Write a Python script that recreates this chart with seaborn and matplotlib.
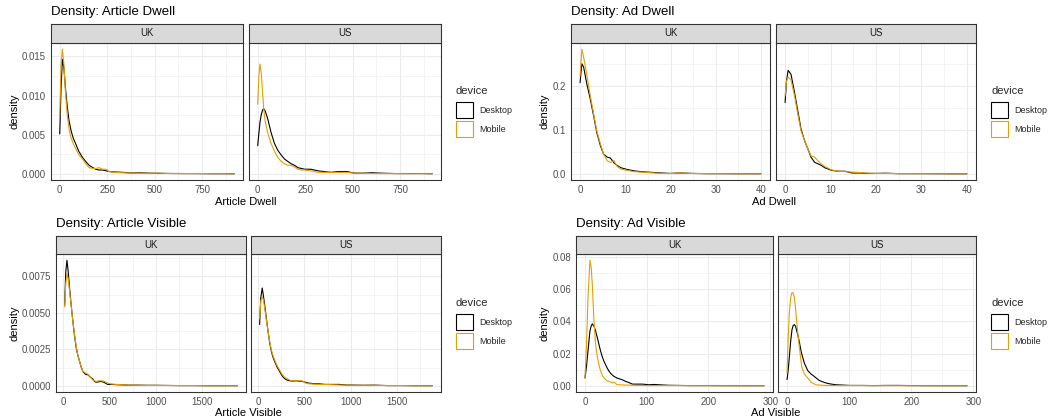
import numpy as np
import pandas as pd
import matplotlib
matplotlib.use("Agg")
import matplotlib.pyplot as plt
import seaborn as sns
from matplotlib.patches import Patch

# ---------------- data ----------------
countries = ["UK", "US"]
devices = ["Desktop", "Mobile"]
device_colors = ["#000000", "#E69F00"]

# Article Dwell
art_dwell_x_uk = [0, 7, 14, 22, 30, 40, 49, 60, 72, 85, 100, 120, 140, 155, 175, 190, 208, 225, 245, 260,
                  290, 331, 380, 420, 470, 520, 580, 650, 720, 800, 860, 920]
art_dwell_desk_uk = [0.0051, 0.0110, 0.0146, 0.0135, 0.0110, 0.0085, 0.0068, 0.0055, 0.0045, 0.0038, 0.0029,
                     0.0021, 0.0015, 0.0011, 0.0008, 0.0006, 0.0005, 0.0005, 0.0004, 0.0003, 0.00025, 0.0002,
                     0.00012, 0.00015, 0.0001, 0.00008, 0.00006, 0.00005, 0.00004, 0.00003, 0.00003, 0.00002]
art_dwell_mob_uk = [0.0074, 0.0140, 0.0159, 0.0140, 0.0105, 0.0075, 0.0057, 0.0046, 0.0038, 0.0032, 0.0025,
                    0.0019, 0.0012, 0.0008, 0.0007, 0.0007, 0.0008, 0.0006, 0.0006, 0.0003, 0.0002, 0.00015,
                    0.0001, 0.0001, 0.00008, 0.0001, 0.00005, 0.00004, 0.00006, 0.00003, 0.00003, 0.00002]
art_dwell_x_us = [0, 6, 12, 19, 26, 32, 40, 53, 70, 88, 106, 124, 141, 158, 176, 194, 211, 230, 246, 280,
                  317, 350, 387, 420, 440, 470, 510, 560, 600, 650, 720, 800, 860, 920]
art_dwell_desk_us = [0.0036, 0.0052, 0.0066, 0.0076, 0.0082, 0.0083, 0.0080, 0.0070, 0.0053, 0.0039, 0.0030,
                     0.0024, 0.0019, 0.0016, 0.0013, 0.0011, 0.0008, 0.0007, 0.0006, 0.0006, 0.0004, 0.0003,
                     0.0002, 0.0003, 0.0003, 0.0003, 0.0001, 0.0001, 0.00015, 0.0001, 0.00005, 0.00005,
                     0.00005, 0.00003]
art_dwell_mob_us = [0.0089, 0.0125, 0.0140, 0.0128, 0.0102, 0.0082, 0.0066, 0.0052, 0.0039, 0.0029, 0.0021,
                    0.0016, 0.0013, 0.0011, 0.0011, 0.0009, 0.0006, 0.0005, 0.0005, 0.0004, 0.0002, 0.0002,
                    0.0002, 0.0002, 0.0002, 0.0002, 0.0001, 0.00008, 0.00005, 0.00004, 0.00004, 0.00003,
                    0.00003, 0.00002]

# Ad Dwell
ad_dwell_x_uk = [0, 0.4, 0.8, 1.5, 2.2, 3.0, 3.7, 4.5, 5.2, 6.0, 6.7, 7.5, 8.2, 9.0, 10.4, 11.9, 13.4, 14.9,
                 16.4, 18, 20, 22, 25, 28, 31, 34, 37, 40]
ad_dwell_desk_uk = [0.207, 0.250, 0.242, 0.204, 0.173, 0.132, 0.094, 0.064, 0.045, 0.038, 0.036, 0.025, 0.019,
                    0.014, 0.010, 0.007, 0.005, 0.004, 0.003, 0.002, 0.001, 0.002, 0.001, 0.0005, 0.0005,
                    0.0003, 0.0003, 0.0002]
ad_dwell_mob_uk = [0.222, 0.283, 0.265, 0.225, 0.181, 0.136, 0.098, 0.068, 0.045, 0.030, 0.026, 0.030, 0.017,
                   0.011, 0.008, 0.005, 0.004, 0.003, 0.002, 0.001, 0.0008, 0.002, 0.0008, 0.0005, 0.0004,
                   0.0003, 0.0002, 0.0002]
ad_dwell_x_us = [0, 0.3, 0.67, 1.3, 2.0, 2.8, 3.5, 4.3, 5.0, 5.7, 6.5, 7.2, 8.0, 8.7, 10.2, 11.7, 13.2, 14.7,
                 16.5, 18.4, 20, 22, 25, 28, 31, 34, 37, 40]
ad_dwell_desk_us = [0.162, 0.210, 0.235, 0.226, 0.189, 0.143, 0.102, 0.075, 0.057, 0.038, 0.026, 0.023, 0.019,
                    0.014, 0.008, 0.006, 0.006, 0.002, 0.002, 0.001, 0.001, 0.0015, 0.0005, 0.0005, 0.0005,
                    0.0003, 0.0002, 0.0002]
ad_dwell_mob_us = [0.177, 0.210, 0.220, 0.213, 0.181, 0.136, 0.098, 0.075, 0.057, 0.041, 0.038, 0.030, 0.022,
                   0.017, 0.009, 0.006, 0.005, 0.004, 0.003, 0.0015, 0.001, 0.001, 0.0005, 0.0005, 0.0004,
                   0.0003, 0.0002, 0.0002]

# Article Visible
art_vis_x_uk = [18, 30, 43, 57, 71, 89, 107, 125, 143, 160, 178, 196, 214, 240, 268, 295, 321, 340, 357, 385,
                410, 440, 482, 530, 580, 625, 700, 800, 900, 1000, 1100, 1250, 1400, 1550, 1700, 1880]
art_vis_desk_uk = [0.0055, 0.0078, 0.0086, 0.0078, 0.0067, 0.0055, 0.0044, 0.0034, 0.0026, 0.0021, 0.0017,
                   0.0013, 0.0010, 0.0008, 0.00076, 0.0006, 0.00048, 0.0003, 0.00025, 0.00028, 0.0003,
                   0.00025, 0.0001, 0.0001, 0.00008, 0.00007, 0.00005, 0.00005, 0.00004, 0.00004, 0.00003,
                   0.00002, 0.00002, 0.00001, 0.00001, 0.00001]
art_vis_mob_uk = [0.0054, 0.0070, 0.0077, 0.0073, 0.0065, 0.0055, 0.0044, 0.0035, 0.0027, 0.0021, 0.0017,
                  0.0013, 0.0010, 0.0009, 0.0008, 0.0006, 0.0004, 0.00035, 0.0003, 0.00035, 0.00035, 0.00033,
                  0.00018, 0.00012, 0.0001, 0.00008, 0.00005, 0.00004, 0.00003, 0.00003, 0.00003, 0.00002,
                  0.00002, 0.00001, 0.00001, 0.00001]
art_vis_x_us = [18, 30, 46, 58, 71, 89, 107, 125, 143, 160, 178, 205, 232, 259, 286, 313, 339, 375, 411, 446,
                482, 510, 536, 600, 661, 720, 800, 875, 950, 1050, 1150, 1250, 1400, 1550, 1700, 1880]
art_vis_desk_us = [0.0042, 0.0060, 0.0067, 0.0062, 0.0056, 0.0047, 0.0038, 0.0030, 0.0024, 0.0020, 0.0017,
                   0.0013, 0.0010, 0.0007, 0.0005, 0.0004, 0.00035, 0.00033, 0.00035, 0.00032, 0.0003,
                   0.00025, 0.0002, 0.00015, 0.00014, 0.0001, 0.0001, 0.0001, 0.00006, 0.00005, 0.00004,
                   0.00005, 0.00002, 0.00002, 0.00001, 0.00001]
art_vis_mob_us = [0.0046, 0.0058, 0.0061, 0.0059, 0.0054, 0.0046, 0.0038, 0.0031, 0.0025, 0.0021, 0.0018,
                  0.0014, 0.0011, 0.0008, 0.0006, 0.0005, 0.0004, 0.00035, 0.00035, 0.00035, 0.00033, 0.0002,
                  0.00015, 0.00012, 0.0001, 0.0001, 0.00008, 0.00006, 0.00005, 0.00004, 0.00004, 0.00004,
                  0.00002, 0.00002, 0.00001, 0.00001]

# Ad Visible
ad_vis_x_uk = [0, 2.5, 5, 8.1, 10, 11.9, 14.6, 17.3, 20, 22.7, 25, 28, 31, 33.5, 36, 39, 42, 44, 47, 52, 55,
               60, 66, 71, 77, 85, 93, 104, 112, 120, 135, 150, 170, 200, 230, 260, 290]
ad_vis_desk_uk = [0.0048, 0.012, 0.022, 0.034, 0.037, 0.0385, 0.037, 0.034, 0.030, 0.0256, 0.022, 0.018,
                  0.015, 0.013, 0.011, 0.009, 0.0075, 0.0068, 0.0058, 0.0048, 0.0044, 0.0038, 0.0027, 0.0020,
                  0.0010, 0.0010, 0.0010, 0.0006, 0.0008, 0.0006, 0.0003, 0.0002, 0.0001, 0.0001, 0.00005,
                  0.00003, 0.00002]
ad_vis_mob_uk = [0.0048, 0.025, 0.055, 0.078, 0.074, 0.063, 0.040, 0.0256, 0.018, 0.013, 0.0095, 0.0065,
                 0.0048, 0.0037, 0.0030, 0.0027, 0.0022, 0.0017, 0.0023, 0.0006, 0.0006, 0.0005, 0.0004,
                 0.0004, 0.0003, 0.0002, 0.0002, 0.0001, 0.0001, 0.0001, 0.0001, 0.0001, 0.00005, 0.00003,
                 0.00002, 0.00001, 0.00001]
ad_vis_x_us = [0, 2, 3.8, 6, 8.1, 10, 11.9, 13.8, 15.7, 17.3, 20, 22.7, 24.3, 28, 33.5, 39, 41.6, 47, 52, 57,
               63, 70, 79, 90, 101, 120, 140, 160, 180, 200, 230, 260, 290]
ad_vis_desk_us = [0.0038, 0.010, 0.018, 0.028, 0.035, 0.0375, 0.038, 0.037, 0.034, 0.032, 0.027, 0.0215,
                  0.019, 0.014, 0.0094, 0.0072, 0.0065, 0.0048, 0.0033, 0.0025, 0.0017, 0.0011, 0.0006,
                  0.0004, 0.0002, 0.0002, 0.0001, 0.0002, 0.0002, 0.0001, 0.00005, 0.00003, 0.00002]
ad_vis_mob_us = [0.0079, 0.030, 0.046, 0.055, 0.058, 0.0575, 0.055, 0.048, 0.040, 0.033, 0.0235, 0.015,
                 0.011, 0.0073, 0.0048, 0.0021, 0.0015, 0.0006, 0.0004, 0.0003, 0.0002, 0.0002, 0.0001,
                 0.0001, 0.0001, 0.0001, 0.00005, 0.00005, 0.00005, 0.00003, 0.00002, 0.00001, 0.00001]

# tick values / labels
art_dwell_xticks = [0, 250, 500, 750]
art_dwell_yticks = [0.0, 0.005, 0.010, 0.015]
art_dwell_ylabels = ["0.000", "0.005", "0.010", "0.015"]
ad_dwell_xticks = [0, 10, 20, 30, 40]
ad_dwell_yticks = [0.0, 0.1, 0.2]
ad_dwell_ylabels = ["0.0", "0.1", "0.2"]
art_vis_xticks = [0, 500, 1000, 1500]
art_vis_yticks = [0.0, 0.0025, 0.0050, 0.0075]
art_vis_ylabels = ["0.0000", "0.0025", "0.0050", "0.0075"]
ad_vis_xticks = [0, 100, 200, 300]
ad_vis_yticks = [0.0, 0.02, 0.04, 0.06, 0.08]
ad_vis_ylabels = ["0.00", "0.02", "0.04", "0.06", "0.08"]

# ---------------- style ----------------
sns.set_theme(style="white")
plt.rcParams["font.family"] = ["Liberation Sans", "DejaVu Sans"]

W, H = 1054, 420
fig = plt.figure(figsize=(W / 100, H / 100), dpi=100)
fig.patch.set_facecolor("white")

LW = 0.78
TICK_FS = 6.9
STRIP_FS = 6.9
LEG_FS = 6.5
AX_FS = 8.0
TITLE_FS = 9.5

metrics = [
    dict(title="Density: Article Dwell", xlabel="Article Dwell",
         xs=[art_dwell_x_uk, art_dwell_x_us], desk=[art_dwell_desk_uk, art_dwell_desk_us],
         mob=[art_dwell_mob_uk, art_dwell_mob_us], xticks=art_dwell_xticks,
         yticks=art_dwell_yticks, ylabels=art_dwell_ylabels,
         panels=[(51, 243), (249, 441)], strip_top=24, top=43, bottom=180,
         legend=(456, 86.5), ylab_x=14, title_y=15, xlab_y=205),
    dict(title="Density: Ad Dwell", xlabel="Ad Dwell",
         xs=[ad_dwell_x_uk, ad_dwell_x_us], desk=[ad_dwell_desk_uk, ad_dwell_desk_us],
         mob=[ad_dwell_mob_uk, ad_dwell_mob_us], xticks=ad_dwell_xticks,
         yticks=ad_dwell_yticks, ylabels=ad_dwell_ylabels,
         panels=[(571, 770), (776, 976)], strip_top=24, top=43, bottom=180,
         legend=(991, 86.5), ylab_x=544, title_y=15, xlab_y=205),
    dict(title="Density: Article Visible", xlabel="Article Visible",
         xs=[art_vis_x_uk, art_vis_x_us], desk=[art_vis_desk_uk, art_vis_desk_us],
         mob=[art_vis_mob_uk, art_vis_mob_us], xticks=art_vis_xticks,
         yticks=art_vis_yticks, ylabels=art_vis_ylabels,
         panels=[(56, 246), (251, 441)], strip_top=236, top=254, bottom=392,
         legend=(456, 298.5), ylab_x=14, title_y=227.5, xlab_y=416),
    dict(title="Density: Ad Visible", xlabel="Ad Visible",
         xs=[ad_vis_x_uk, ad_vis_x_us], desk=[ad_vis_desk_uk, ad_vis_desk_us],
         mob=[ad_vis_mob_uk, ad_vis_mob_us], xticks=ad_vis_xticks,
         yticks=ad_vis_yticks, ylabels=ad_vis_ylabels,
         panels=[(576, 773), (778, 976)], strip_top=236, top=254, bottom=392,
         legend=(991, 298.5), ylab_x=544, title_y=227.5, xlab_y=416),
]

palette = dict(zip(devices, device_colors))


def fx(px):
    return px / W


def fy(py):
    return 1 - py / H


for m in metrics:
    allx = np.concatenate([np.asarray(v, float) for v in m["xs"]])
    ally = np.concatenate([np.asarray(v, float) for v in m["desk"] + m["mob"]])
    xr = allx.max() - allx.min()
    yr = ally.max() - ally.min()
    xlim = (allx.min() - 0.05 * xr, allx.max() + 0.05 * xr)
    ylim = (ally.min() - 0.05 * yr, ally.max() + 0.05 * yr)
    xt = np.asarray(m["xticks"], float)
    yt = np.asarray(m["yticks"], float)
    xstep = xt[1] - xt[0]
    ystep = yt[1] - yt[0]
    xminor = np.arange(xt[0] - xstep / 2, xt[-1] + xstep, xstep)
    yminor = np.arange(yt[0] - ystep / 2, yt[-1] + ystep, ystep)

    for i, country in enumerate(countries):
        l, r = m["panels"][i]
        ax = fig.add_axes([fx(l), fy(m["bottom"]), fx(r - l), (m["bottom"] - m["top"]) / H])
        x = list(m["xs"][i])
        n = len(x)
        df = pd.DataFrame({
            "x": x + x,
            "density": list(m["desk"][i]) + list(m["mob"][i]),
            "device": [devices[0]] * n + [devices[1]] * n,
        })
        sns.lineplot(data=df, x="x", y="density", hue="device", hue_order=devices,
                     palette=palette, estimator=None, sort=False, lw=0.8, ax=ax, legend=False)
        ax.set_facecolor("white")
        ax.set_xticks(xt)
        ax.set_xticklabels([f"{int(v)}" for v in xt])
        ax.set_xticks(xminor, minor=True)
        ax.set_yticks(yt)
        ax.set_yticks(yminor, minor=True)
        ax.set_xlim(xlim)
        ax.set_ylim(ylim)
        ax.grid(which="major", color="#EBEBEB", lw=LW)
        ax.grid(which="minor", color="#EBEBEB", lw=LW / 2)
        ax.set_axisbelow(True)
        for s in ax.spines.values():
            s.set_color("#333333")
            s.set_linewidth(LW)
        ax.tick_params(axis="both", which="major", length=2.0, width=LW, color="#333333",
                       labelsize=TICK_FS, labelcolor="#4D4D4D", pad=1.6)
        ax.tick_params(axis="both", which="minor", length=0)
        ax.set_xlabel("")
        ax.set_ylabel("")
        if i == 0:
            ax.set_yticklabels(m["ylabels"])
        else:
            ax.tick_params(axis="y", which="major", length=0, labelleft=False)

        # facet strip
        sax = fig.add_axes([fx(l), fy(m["top"]), fx(r - l), (m["top"] - m["strip_top"]) / H])
        sax.set_facecolor("#D9D9D9")
        sax.set_xticks([])
        sax.set_yticks([])
        for s in sax.spines.values():
            s.set_color("#333333")
            s.set_linewidth(LW)
        sax.text(0.5, 0.5, country, transform=sax.transAxes, ha="center", va="center",
                 fontsize=STRIP_FS, color="#1A1A1A")

    l0 = m["panels"][0][0]
    r1 = m["panels"][1][1]
    fig.text(fx(l0), fy(m["title_y"]), m["title"], ha="left", va="baseline",
             fontsize=TITLE_FS, color="black")
    fig.text(fx((l0 + r1) / 2), fy(m["xlab_y"]), m["xlabel"], ha="center", va="baseline",
             fontsize=AX_FS, color="black")
    fig.text(fx(m["ylab_x"]), fy((m["top"] + m["bottom"]) / 2), "density", rotation=90,
             ha="center", va="center", fontsize=AX_FS, color="black")

    handles = [Patch(facecolor="white", edgecolor=c, lw=0.8) for c in device_colors]
    lx, ly = m["legend"]
    leg = fig.legend(handles, devices, title="device", loc="upper left",
                     bbox_to_anchor=(fx(lx), fy(ly)), frameon=False, fontsize=LEG_FS,
                     title_fontsize=AX_FS, handlelength=1.85, handleheight=2.4, handletextpad=0.7,
                     labelspacing=0.3, borderpad=0, borderaxespad=0, alignment="left")
    leg._legend_box.sep = 4.0

fig.savefig("out.png", dpi=100, facecolor="white")
